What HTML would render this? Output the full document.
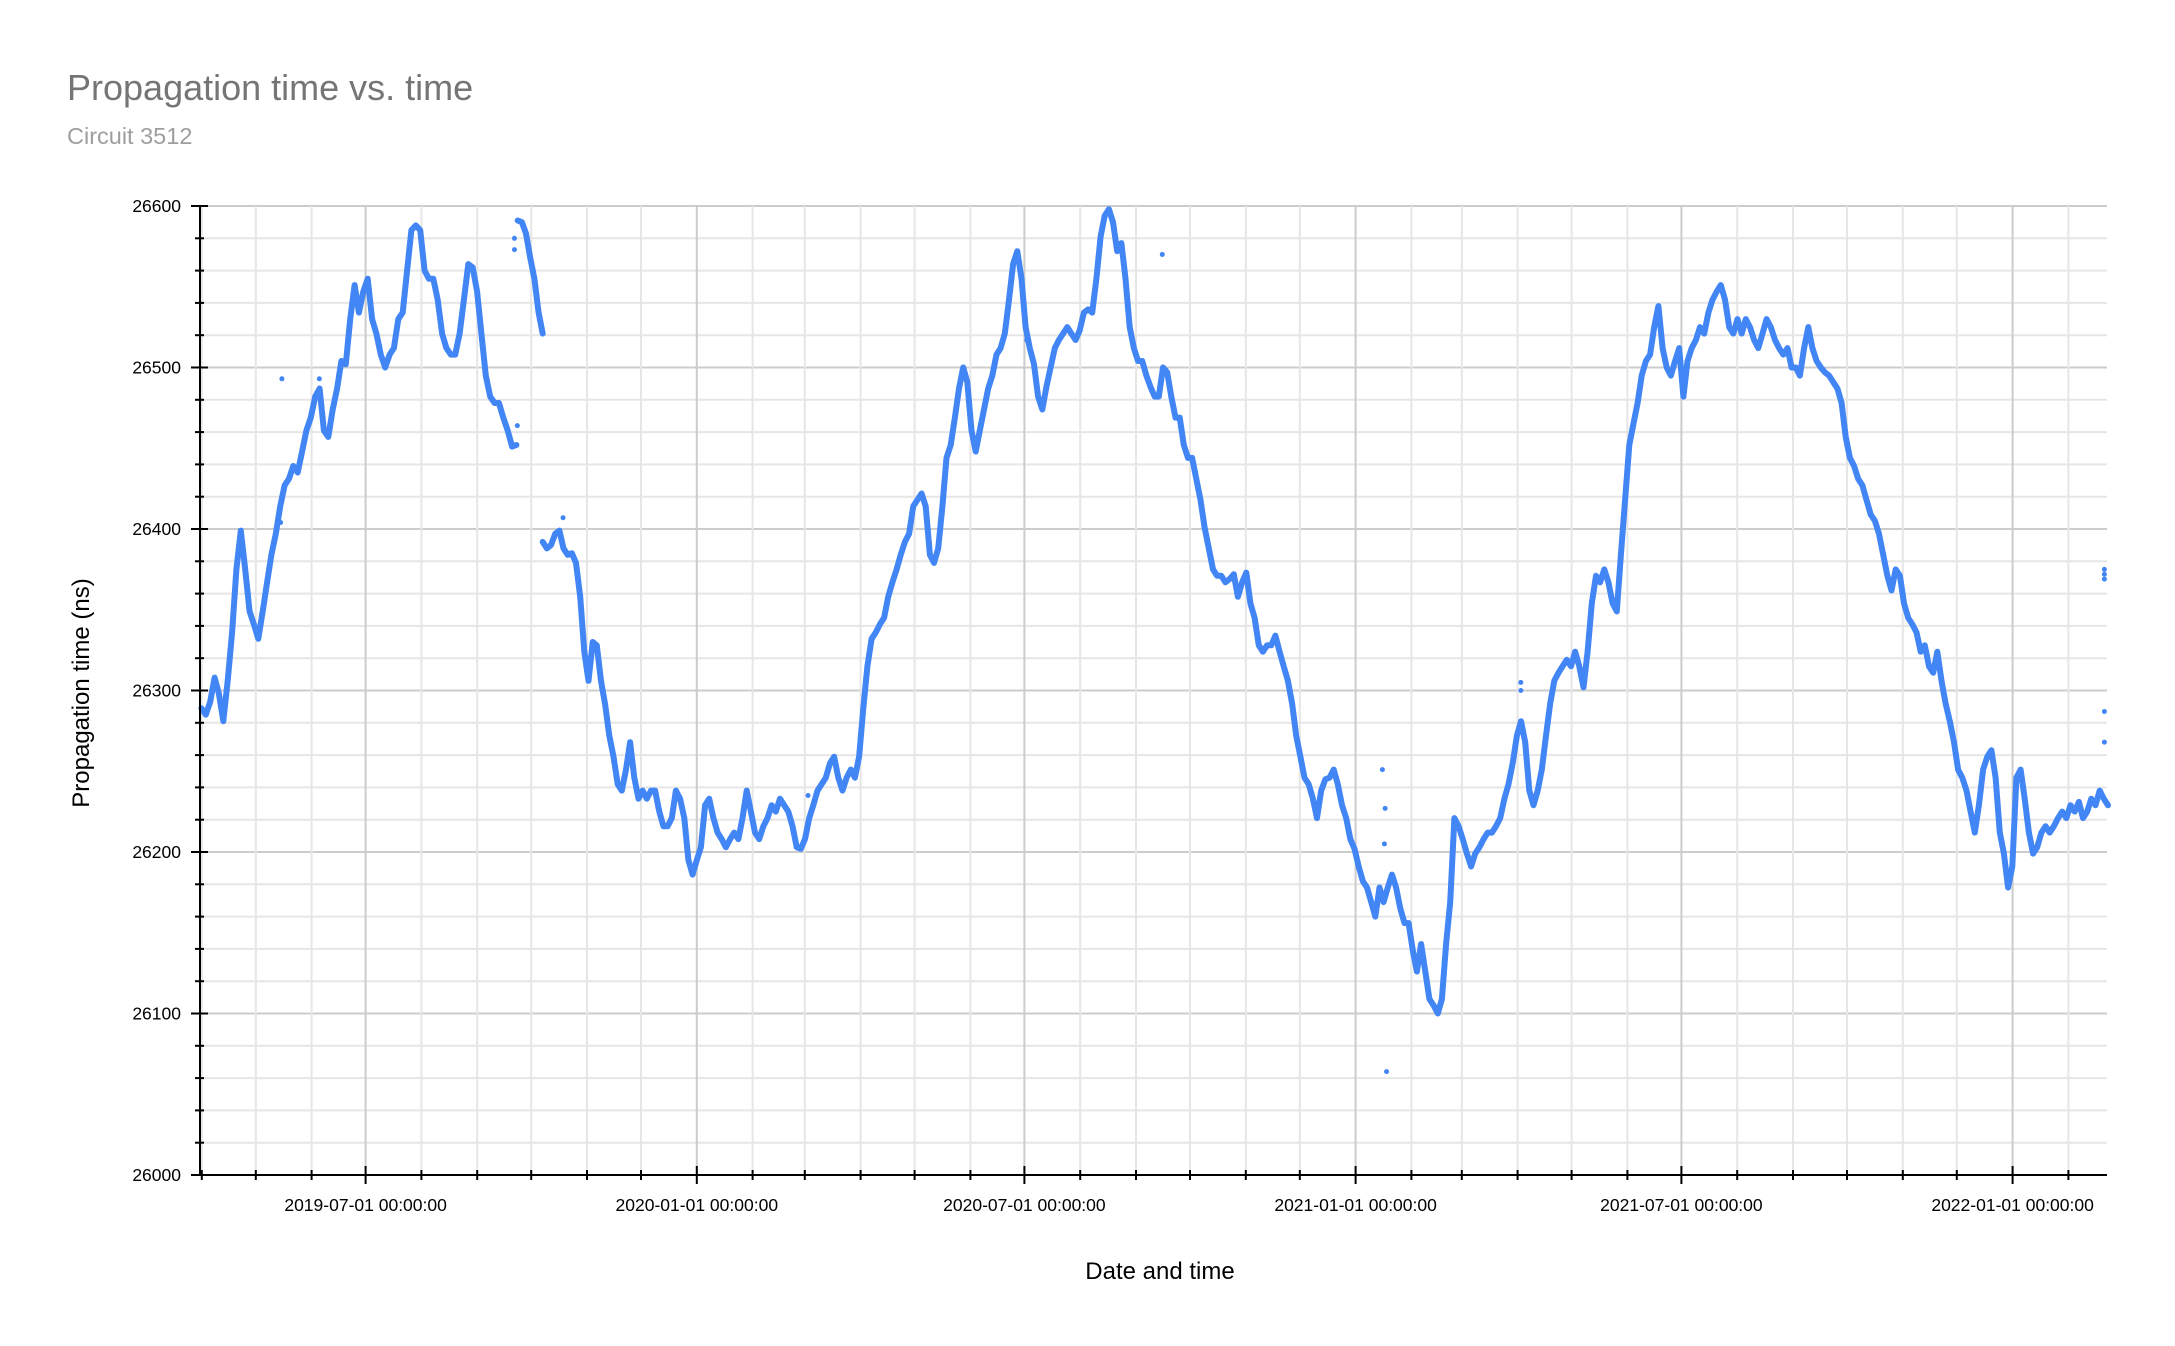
<!DOCTYPE html>
<html><head><meta charset="utf-8"><style>
body{margin:0;background:#fff}
svg{display:block;font-family:"Liberation Sans",Arial,sans-serif}
</style></head><body>
<svg id="chart" width="2175" height="1346" viewBox="0 0 2175 1346">
<text x="67" y="100" font-size="36" fill="#757575">Propagation time vs. time</text>
<text x="67" y="144" font-size="23.5" fill="#9e9e9e">Circuit 3512</text>
<g id="grid"></g><g id="series"></g><g id="axes"></g>
<text x="1160" y="1279" font-size="24" fill="#000" text-anchor="middle">Date and time</text>
<text transform="translate(89,693) rotate(-90)" font-size="24" fill="#000" text-anchor="middle">Propagation time (ns)</text>
</svg>
<script>
// Data: days since 2019-03-31, values in ns
const seg1Start = 0.8, seg1End = 175.8;
const seg1Values = [26289,26285,26293,26308,26298,26281,26306,26336,26375,26399,26375,26349,26341,26332,26349,26367,26384,26397,26414,26427,26431,26439,26435,26448,26461,26469,26482,26487,26461,26457,26474,26487,26504,26502,26530,26551,26534,26547,26555,26530,26521,26508,26500,26508,26512,26530,26534,26560,26585,26588,26585,26560,26555,26555,26542,26521,26512,26508,26508,26521,26542,26564,26562,26547,26521,26495,26482,26478,26478,26469,26461,26451,26452];
const seg2Start = 176.5, seg2End = 190.4;
const seg2Values = [26591,26590,26583,26568,26555,26534,26521];
const seg3Start = 190.4, seg3End = 1060;
const seg3Values = [26392,26388,26390,26397,26399,26388,26384,26385,26379,26358,26324,26306,26330,26328,26306,26291,26272,26259,26242,26238,26251,26268,26246,26233,26238,26233,26238,26238,26225,26216,26216,26221,26238,26233,26221,26195,26186,26195,26203,26229,26233,26221,26212,26208,26203,26208,26212,26208,26221,26238,26225,26212,26208,26216,26221,26229,26225,26233,26229,26225,26216,26203,26202,26208,26221,26229,26238,26242,26246,26255,26259,26246,26238,26246,26251,26246,26259,26289,26315,26332,26336,26341,26345,26358,26367,26375,26384,26392,26397,26414,26418,26422,26414,26384,26379,26388,26414,26444,26452,26469,26487,26500,26491,26461,26448,26461,26474,26487,26495,26508,26512,26521,26542,26564,26572,26555,26525,26512,26502,26482,26474,26488,26500,26512,26517,26521,26525,26521,26517,26523,26534,26536,26534,26555,26581,26594,26598,26590,26572,26577,26555,26525,26512,26504,26504,26495,26488,26482,26482,26500,26497,26482,26469,26469,26452,26444,26444,26431,26418,26401,26388,26375,26371,26371,26367,26369,26372,26358,26367,26373,26354,26345,26328,26324,26328,26328,26334,26324,26315,26306,26292,26272,26259,26246,26242,26233,26221,26238,26245,26246,26251,26242,26229,26221,26208,26202,26191,26182,26178,26169,26160,26178,26169,26178,26186,26178,26165,26156,26156,26139,26126,26143,26126,26109,26105,26100,26109,26143,26169,26221,26216,26208,26199,26191,26199,26203,26208,26212,26212,26216,26221,26233,26242,26255,26272,26281,26268,26238,26229,26238,26251,26272,26292,26306,26311,26315,26319,26315,26324,26315,26302,26324,26354,26371,26367,26375,26367,26354,26349,26384,26418,26452,26465,26478,26495,26504,26508,26525,26538,26512,26500,26495,26504,26512,26482,26504,26512,26517,26525,26521,26534,26542,26547,26551,26542,26525,26521,26530,26521,26530,26525,26517,26512,26521,26530,26525,26517,26512,26508,26512,26500,26500,26495,26512,26525,26512,26504,26500,26497,26495,26491,26487,26478,26457,26444,26439,26431,26427,26418,26409,26405,26397,26384,26371,26362,26375,26371,26354,26345,26341,26336,26324,26328,26315,26311,26324,26306,26292,26281,26268,26251,26246,26238,26225,26212,26229,26251,26259,26263,26246,26212,26199,26178,26191,26246,26251,26233,26212,26199,26203,26212,26216,26212,26216,26221,26225,26221,26229,26225,26231,26221,26225,26233,26229,26238,26233,26229];
const outlierDays = [45.5,44.8,66.3,534.6,656.9,658.4,659.2,658,1058,1058,1058,1058,1058,733.8,733.8,763,201.7,174.7,174.7,176.3,459.3,337.8];
const outlierValues = [26493,26404,26493,26570,26251,26227,26064,26205,26375,26372,26369,26287,26268,26305,26300,26318,26407,26580,26573,26464,26517,26235];
const yTicks = [26000,26100,26200,26300,26400,26500,26600];
const xTickLabels = ["2019-07-01 00:00:00","2020-01-01 00:00:00","2020-07-01 00:00:00","2021-01-01 00:00:00","2021-07-01 00:00:00","2022-01-01 00:00:00"];

const L=200,R=2107,T=206,B=1175,yMin=26000,yMax=26600,dMax=(R-L)/1.8;
const day0=Date.UTC(2019,2,31);
const xS=d=>L+d/dMax*(R-L);
const yS=v=>B-(v-yMin)/(yMax-yMin)*(B-T);
const dayOf=(y,m)=>(Date.UTC(y,m,1)-day0)/86400000;
const NS="http://www.w3.org/2000/svg";
function mk(tag,attrs,parent){const e=document.createElementNS(NS,tag);for(const k in attrs)e.setAttribute(k,attrs[k]);parent.appendChild(e);return e;}
const grid=document.getElementById('grid'),axes=document.getElementById('axes'),series=document.getElementById('series');

for(let v=yMin;v<=yMax;v+=20){
  const major=(v%100===0);
  const ln=mk('line',{x1:L,x2:R,y1:yS(v),y2:yS(v),stroke:major?'#cccccc':'#e6e6e6','stroke-width':2},grid);
  
  
  const tk=mk('line',{x1:major?191:195,x2:major?208:204,y1:yS(v),y2:yS(v),stroke:'#000','stroke-width':2},axes);
  
  
}
yTicks.forEach(v=>{
  const t=mk('text',{x:181,y:yS(v)+6,'font-size':17.5,'text-anchor':'end',fill:'#000'},axes);
  t.textContent=v;
  
  
});
let li=0;
for(let y=2019;y<=2022;y++)for(let m=0;m<12;m++){
  const d=dayOf(y,m); if(d<0||d>dMax) continue;
  const x=xS(d), major=(m===0||m===6);
  const ln=mk('line',{x1:x,x2:x,y1:T,y2:B,stroke:major?'#cccccc':'#e6e6e6','stroke-width':2},grid);
  
  
  const tk=mk('line',{x1:x,x2:x,y1:major?B-9:B-5,y2:major?B+9:B+5,stroke:'#000','stroke-width':2},axes);
  
  
  if(major&&li<xTickLabels.length){
    const t=mk('text',{x:x,y:B+36,'font-size':17.5,'text-anchor':'middle',fill:'#000'},axes);
    t.textContent=xTickLabels[li++];
    
    
  }
}
const ax=mk('line',{x1:L,x2:L,y1:T,y2:B,stroke:'#000','stroke-width':2},axes);


const bx=mk('line',{x1:L,x2:R,y1:B,y2:B,stroke:'#000','stroke-width':2},axes);



function drawSeg(s,e,vals,name){
  const n=vals.length;
  const pts=vals.map((v,i)=>xS(s+(e-s)*i/(n-1)).toFixed(1)+','+yS(v).toFixed(1)).join(' ');
  const p=mk('polyline',{points:pts,fill:'none',stroke:'#4285f4','stroke-width':6,'stroke-linejoin':'round','stroke-linecap':'round'},series);
  
  
}
drawSeg(seg1Start,seg1End,seg1Values,'series-segment-1');
drawSeg(seg2Start,seg2End,seg2Values,'series-segment-2');
drawSeg(seg3Start,seg3End,seg3Values,'series-segment-3');
outlierDays.forEach((d,i)=>{
  const c=mk('circle',{cx:xS(d),cy:yS(outlierValues[i]),r:2.5,fill:'#4285f4'},series);
  
  
});
</script>
</body></html>
